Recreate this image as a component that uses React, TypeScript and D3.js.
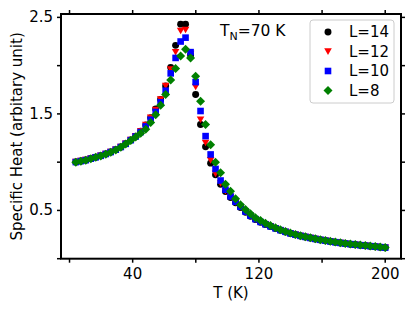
import React from "react";
import * as d3 from "d3";

// temperature grid (K)
const temps = [
  4.0, 7.2, 10.3, 13.5, 16.6, 19.8, 23.0, 26.1, 29.3, 32.5, 35.6, 38.8, 41.9,
  45.1, 48.3, 51.4, 54.6, 57.7, 60.9, 64.1, 67.2, 70.4, 73.5, 76.7, 79.9, 83.0,
  86.2, 89.4, 92.5, 95.7, 98.8, 102.0, 105.2, 108.3, 111.5, 114.6, 117.8, 121.0,
  124.1, 127.3, 130.5, 133.6, 136.8, 139.9, 143.1, 146.3, 149.4, 152.6, 155.7,
  158.9, 162.1, 165.2, 168.4, 171.6, 174.7, 177.9, 181.0, 184.2, 187.4, 190.5,
  193.7, 196.8, 200.0,
];

const heatL14 = [
  1.003, 1.013, 1.023, 1.037, 1.052, 1.067, 1.086, 1.106, 1.13, 1.158,
  1.192, 1.23, 1.27, 1.32, 1.385, 1.46, 1.55, 1.65, 1.79, 1.98,
  2.21, 2.43, 2.43, 2.11, 1.7, 1.39, 1.16, 0.99, 0.87, 0.77,
  0.695, 0.635, 0.58, 0.53, 0.48, 0.44, 0.405, 0.378, 0.354, 0.333,
  0.313, 0.295, 0.277, 0.262, 0.248, 0.236, 0.225, 0.214, 0.204, 0.195,
  0.186, 0.178, 0.17, 0.163, 0.156, 0.15, 0.144, 0.139, 0.134, 0.129,
  0.124, 0.119, 0.114,
];

const heatL12 = [
  1.003, 1.013, 1.023, 1.037, 1.052, 1.067, 1.086, 1.106, 1.13, 1.158,
  1.192, 1.23, 1.27, 1.32, 1.385, 1.46, 1.54, 1.65, 1.79, 1.96,
  2.14, 2.36, 2.37, 2.12, 1.78, 1.44, 1.2, 1.02, 0.88, 0.78,
  0.7, 0.64, 0.585, 0.533, 0.483, 0.442, 0.407, 0.379, 0.355, 0.334,
  0.314, 0.295, 0.278, 0.262, 0.248, 0.236, 0.225, 0.214, 0.204, 0.195,
  0.186, 0.178, 0.17, 0.163, 0.156, 0.15, 0.144, 0.139, 0.134, 0.129,
  0.124, 0.119, 0.114,
];

const heatL10 = [
  1.001, 1.011, 1.021, 1.036, 1.051, 1.066, 1.085, 1.105, 1.129, 1.157,
  1.19, 1.228, 1.266, 1.312, 1.37, 1.44, 1.52, 1.62, 1.74, 1.92,
  2.08, 2.25, 2.29, 2.14, 1.83, 1.53, 1.27, 1.08, 0.93, 0.81,
  0.715, 0.645, 0.59, 0.538, 0.488, 0.446, 0.41, 0.381, 0.357, 0.335,
  0.315, 0.296, 0.279, 0.263, 0.249, 0.237, 0.226, 0.215, 0.205, 0.196,
  0.187, 0.179, 0.171, 0.164, 0.157, 0.151, 0.145, 0.14, 0.135, 0.13,
  0.125, 0.12, 0.115,
];

const heatL8 = [
  1.0, 1.01, 1.02, 1.035, 1.05, 1.065, 1.083, 1.103, 1.127, 1.155,
  1.188, 1.225, 1.262, 1.3, 1.34, 1.41, 1.49, 1.59, 1.7, 1.85,
  1.97, 2.1, 2.17, 2.08, 1.89, 1.63, 1.39, 1.18, 1.0, 0.89,
  0.77, 0.7, 0.62, 0.56, 0.51, 0.465, 0.425, 0.395, 0.367, 0.343,
  0.32, 0.3, 0.282, 0.266, 0.251, 0.238, 0.227, 0.216, 0.206, 0.197,
  0.188, 0.18, 0.172, 0.165, 0.158, 0.152, 0.146, 0.141, 0.136, 0.131,
  0.126, 0.121, 0.116,
];

const seriesLabels = ["L=14", "L=12", "L=10", "L=8"];
const seriesColors = ["#000000", "#ff0000", "#0000ff", "#008000"];
const seriesShapes = ["circle", "triangle", "square", "diamond"];
const seriesValues = [heatL14, heatL12, heatL10, heatL8];

const xTicks = [0, 40, 80, 120, 160, 200];
const xTickLabels = ["", "40", "", "120", "", "200"];
const yTicks = [0, 0.5, 1.0, 1.5, 2.0, 2.5];
const yTickLabels = ["", "0.5", "", "1.5", "", "2.5"];

const width = 415;
const height = 311;
const margin = { top: 14, right: 14, bottom: 52.3, left: 61 };
const font = "DejaVu Sans, sans-serif";

const markerPath = (shape: string): string => {
  switch (shape) {
    case "circle":
      return d3.symbol(d3.symbolCircle, 38)() as string;
    case "triangle":
      return "M-3.8,-3.2L3.8,-3.2L0,3.4Z";
    case "square":
      return "M-3.3,-3.3L3.3,-3.3L3.3,3.3L-3.3,3.3Z";
    default:
      return "M0,-4.5L4.5,0L0,4.5L-4.5,0Z";
  }
};

const App: React.FC = () => {
  const x = d3
    .scaleLinear()
    .domain([-5.4, 210])
    .range([margin.left, width - margin.right]);
  const y = d3
    .scaleLinear()
    .domain([0, 2.535])
    .range([height - margin.bottom, margin.top]);

  const [x0, x1] = x.range();
  const [yb, yt] = y.range();
  const tickLen = 4;

  return (
    <svg
      width={width}
      height={height}
      style={{ position: "absolute", left: 0, top: 0, background: "#fff" }}
      fontFamily={font}
    >
      {/* data */}
      {seriesValues.map((vals, si) => (
        <g key={si} fill={seriesColors[si]}>
          {vals.map((v, i) => (
            <path
              key={i}
              d={markerPath(seriesShapes[si])}
              transform={`translate(${x(temps[i])},${y(v)})`}
            />
          ))}
        </g>
      ))}

      {/* ticks on all four sides, pointing out */}
      <g stroke="#000" strokeWidth={1.5}>
        {xTicks.map((t) => (
          <g key={"x" + t}>
            <line x1={x(t)} x2={x(t)} y1={yb} y2={yb + tickLen} />
            <line x1={x(t)} x2={x(t)} y1={yt} y2={yt - tickLen} />
          </g>
        ))}
        {yTicks.map((t) => (
          <g key={"y" + t}>
            <line x1={x0} x2={x0 - tickLen} y1={y(t)} y2={y(t)} />
            <line x1={x1} x2={x1 + tickLen} y1={y(t)} y2={y(t)} />
          </g>
        ))}
      </g>

      <rect
        x={x0}
        y={yt}
        width={x1 - x0}
        height={yb - yt}
        fill="none"
        stroke="#000"
        strokeWidth={2}
      />

      {/* tick labels */}
      <g fontSize={15} fill="#000">
        {xTicks.map((t, i) => (
          <text key={"xl" + t} x={x(t)} y={yb + 20} textAnchor="middle">
            {xTickLabels[i]}
          </text>
        ))}
        {yTicks.map((t, i) => (
          <text
            key={"yl" + t}
            x={x0 - 8}
            y={y(t)}
            textAnchor="end"
            dominantBaseline="central"
          >
            {yTickLabels[i]}
          </text>
        ))}
      </g>

      {/* axis labels */}
      <text x={(x0 + x1) / 2} y={298} textAnchor="middle" fontSize={15}>
        T (K)
      </text>
      <text
        transform={`translate(22,${(yt + yb) / 2}) rotate(-90)`}
        textAnchor="middle"
        fontSize={15}
      >
        Specific Heat (arbitary unit)
      </text>

      {/* annotation */}
      <text x={220} y={36} fontSize={15.5}>
        T<tspan fontSize={11} dy={4}>N</tspan>
        <tspan dy={-4}>=70 K</tspan>
      </text>

      {/* legend */}
      <g>
        <rect
          x={310}
          y={20}
          width={84}
          height={83}
          rx={3}
          fill="#fff"
          fillOpacity={0.8}
          stroke="#cccccc"
          strokeWidth={1}
        />
        {seriesLabels.map((lab, i) => (
          <g key={lab} transform={`translate(0,${32 + i * 19.5})`}>
            <path
              d={markerPath(seriesShapes[i])}
              fill={seriesColors[i]}
              transform="translate(328,0)"
            />
            <text x={349} y={0} dominantBaseline="central" fontSize={15}>
              {lab}
            </text>
          </g>
        ))}
      </g>
    </svg>
  );
};

export default App;
